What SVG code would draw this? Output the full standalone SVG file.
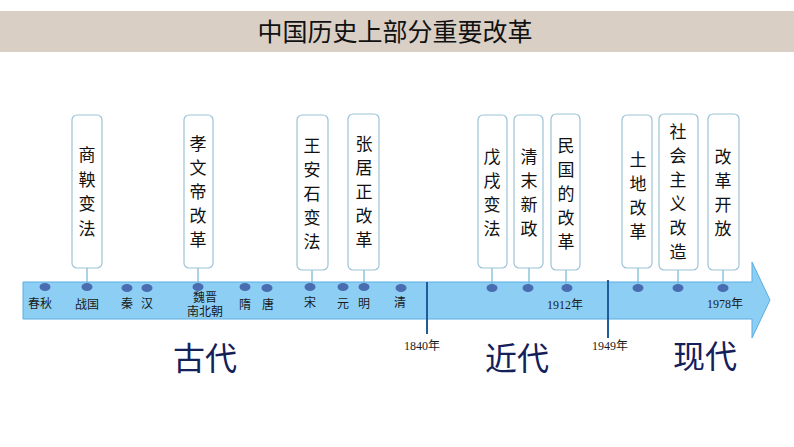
<svg xmlns="http://www.w3.org/2000/svg" width="794" height="447" viewBox="0 0 794 447">
<style>
.bx{fill:#fff;stroke:#9cc3d8;stroke-width:1.2}
.vt{font-family:"Liberation Serif","Noto Sans CJK SC",serif;font-size:17px;fill:#111;text-anchor:middle}
.lb{font-family:"Liberation Serif","Noto Sans CJK SC",serif;font-size:12px;fill:#1a1a1a;text-anchor:middle}
.big{font-family:"Liberation Serif","Noto Sans CJK SC",serif;font-size:32px;fill:#14205a;text-anchor:middle}
.dot{fill:#4a6cb0}
.ln{stroke:#6fb7d4;stroke-width:1.2}
.yr{stroke:#1f5c99;stroke-width:2}
</style>
<rect width="794" height="447" fill="#fff"/>
<rect x="0" y="11" width="794" height="41" fill="#dacfc5"/>
<text x="395" y="41" font-family="'Noto Sans CJK SC',sans-serif" font-size="25" text-anchor="middle" fill="#111">中国历史上部分重要改革</text>
<g id="timeline">
<polygon points="23,282 752,282 752,262 770,300 752,338 752,319 23,319" fill="#8dcff4" stroke="#5aaee0" stroke-width="1"/>
</g>
<g id="connectors">
<line class="ln" x1="87" y1="268" x2="87" y2="284"/>
<line class="ln" x1="198" y1="268" x2="198" y2="284"/>
<line class="ln" x1="312" y1="270" x2="312" y2="284"/>
<line class="ln" x1="364" y1="270" x2="364" y2="284"/>
<line class="ln" x1="492" y1="268" x2="492" y2="284"/>
<line class="ln" x1="529" y1="268" x2="529" y2="284"/>
<line class="ln" x1="566" y1="270" x2="566" y2="284"/>
<line class="ln" x1="638" y1="268" x2="638" y2="284"/>
<line class="ln" x1="678" y1="270" x2="678" y2="284"/>
<line class="ln" x1="723" y1="270" x2="723" y2="284"/>
<line class="yr" x1="427" y1="282" x2="427" y2="334"/>
<line class="yr" x1="608" y1="280" x2="608" y2="338"/>
</g>
<g id="dots">
<ellipse class="dot" cx="45" cy="287" rx="5.5" ry="4"/>
<ellipse class="dot" cx="87" cy="287" rx="5.5" ry="4"/>
<ellipse class="dot" cx="127" cy="288" rx="5.5" ry="4"/>
<ellipse class="dot" cx="147" cy="288" rx="5.5" ry="4"/>
<ellipse class="dot" cx="198" cy="287" rx="5.5" ry="4"/>
<ellipse class="dot" cx="245" cy="287" rx="5.5" ry="4"/>
<ellipse class="dot" cx="267" cy="288" rx="5.5" ry="4"/>
<ellipse class="dot" cx="310" cy="287" rx="5.5" ry="4"/>
<ellipse class="dot" cx="343" cy="287" rx="5.5" ry="4"/>
<ellipse class="dot" cx="364" cy="287" rx="5.5" ry="4"/>
<ellipse class="dot" cx="401" cy="288" rx="5.5" ry="4"/>
<ellipse class="dot" cx="492" cy="288" rx="5.5" ry="4"/>
<ellipse class="dot" cx="528" cy="288" rx="5.5" ry="4"/>
<ellipse class="dot" cx="567" cy="288" rx="5.5" ry="4"/>
<ellipse class="dot" cx="638" cy="288" rx="5.5" ry="4"/>
<ellipse class="dot" cx="678" cy="288" rx="5.5" ry="4"/>
<ellipse class="dot" cx="723" cy="288" rx="5.5" ry="4"/>
</g>
<g id="labels">
<text class="lb" x="40" y="308">春秋</text>
<text class="lb" x="87" y="309">战国</text>
<text class="lb" x="127" y="308">秦</text>
<text class="lb" x="147" y="308">汉</text>
<text class="lb" x="205" y="302" font-size="11">魏晋</text>
<text class="lb" x="205" y="316" font-size="11">南北朝</text>
<text class="lb" x="245" y="309">隋</text>
<text class="lb" x="268" y="309">唐</text>
<text class="lb" x="310" y="307">宋</text>
<text class="lb" x="343" y="308">元</text>
<text class="lb" x="364" y="308">明</text>
<text class="lb" x="400" y="307">清</text>
<text class="lb" x="565" y="309">1912年</text>
<text class="lb" x="725" y="308">1978年</text>
<text class="lb" x="422" y="350">1840年</text>
<text class="lb" x="610" y="350">1949年</text>
<text class="big" x="205" y="370">古代</text>
<text class="big" x="517" y="370">近代</text>
<text class="big" x="705" y="368">现代</text>
</g>
<g id="n1"><rect class="bx" x="72" y="115" width="30" height="153" rx="5"/><text class="vt" x="87"><tspan x="87" y="161">商</tspan><tspan x="87" y="186">鞅</tspan><tspan x="87" y="210">变</tspan><tspan x="87" y="235">法</tspan></text></g>
<g id="n2"><rect class="bx" x="184" y="115" width="29" height="153" rx="5"/><text class="vt"><tspan x="198" y="150">孝</tspan><tspan x="198" y="174">文</tspan><tspan x="198" y="198">帝</tspan><tspan x="198" y="222">改</tspan><tspan x="198" y="246">革</tspan></text></g>
<g id="n3"><rect class="bx" x="297" y="115" width="31" height="155" rx="5"/><text class="vt"><tspan x="312" y="152">王</tspan><tspan x="312" y="176">安</tspan><tspan x="312" y="200">石</tspan><tspan x="312" y="224">变</tspan><tspan x="312" y="248">法</tspan></text></g>
<g id="n4"><rect class="bx" x="348" y="114" width="31" height="156" rx="5"/><text class="vt"><tspan x="364" y="150">张</tspan><tspan x="364" y="174">居</tspan><tspan x="364" y="198">正</tspan><tspan x="364" y="222">改</tspan><tspan x="364" y="246">革</tspan></text></g>
<g id="n5"><rect class="bx" x="478" y="115" width="29" height="153" rx="5"/><text class="vt"><tspan x="492" y="163">戊</tspan><tspan x="492" y="187">戌</tspan><tspan x="492" y="211">变</tspan><tspan x="492" y="235">法</tspan></text></g>
<g id="n6"><rect class="bx" x="514" y="115" width="29" height="153" rx="5"/><text class="vt"><tspan x="529" y="163">清</tspan><tspan x="529" y="187">末</tspan><tspan x="529" y="211">新</tspan><tspan x="529" y="235">政</tspan></text></g>
<g id="n7"><rect class="bx" x="551" y="114" width="29" height="156" rx="5"/><text class="vt"><tspan x="566" y="152">民</tspan><tspan x="566" y="176">国</tspan><tspan x="566" y="200">的</tspan><tspan x="566" y="224">改</tspan><tspan x="566" y="248">革</tspan></text></g>
<g id="n8"><rect class="bx" x="622" y="115" width="30" height="153" rx="5"/><text class="vt"><tspan x="638" y="166">土</tspan><tspan x="638" y="190">地</tspan><tspan x="638" y="214">改</tspan><tspan x="638" y="238">革</tspan></text></g>
<g id="n9"><rect class="bx" x="659" y="114" width="39" height="156" rx="5"/><text class="vt"><tspan x="678" y="138">社</tspan><tspan x="678" y="162">会</tspan><tspan x="678" y="186">主</tspan><tspan x="678" y="210">义</tspan><tspan x="678" y="234">改</tspan><tspan x="678" y="258">造</tspan></text></g>
<g id="n10"><rect class="bx" x="708" y="114" width="31" height="156" rx="5"/><text class="vt"><tspan x="723" y="163">改</tspan><tspan x="723" y="187">革</tspan><tspan x="723" y="211">开</tspan><tspan x="723" y="235">放</tspan></text></g>
</svg>
